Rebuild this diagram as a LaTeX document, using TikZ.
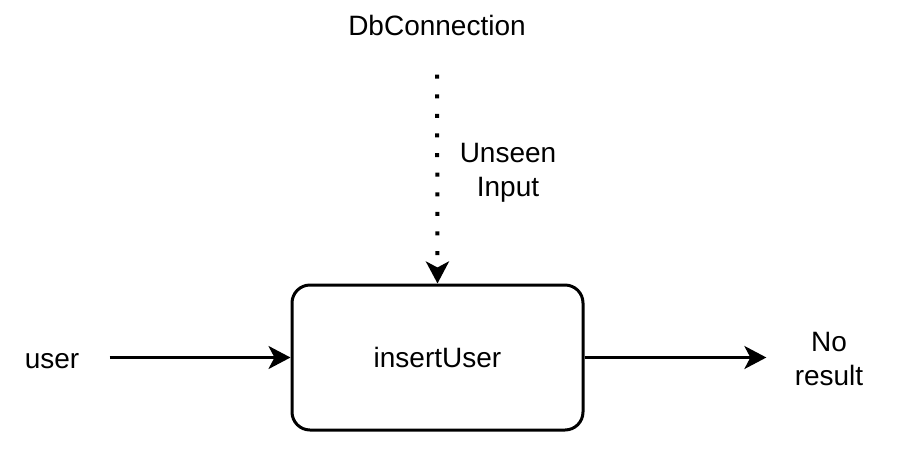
\documentclass[tikz,border=0pt]{standalone}
\usepackage{fontspec}
\setmainfont{Liberation Sans}
\usetikzlibrary{arrows.meta, positioning, calc}

\begin{document}
\begin{tikzpicture}[x=0.5pt, y=-0.5pt, font=\fontsize{14}{17}\selectfont,
  arr/.style={line width=1.5pt, -{Stealth[length=11pt, width=11.5pt, inset=3pt]}},
  lbl/.style={align=center, inner sep=0pt}]
\useasboundingbox (0,0) rectangle (900,456);
% Function box
\node[draw, line width=1.5pt, rounded corners=9pt, minimum width=145.5pt, minimum height=72.5pt] (ins) at (437.5,357.5) {insertUser};

% Inputs and output
\node[lbl, anchor=base] (db) at (437,35) {DbConnection};
\node[lbl] (unseen) at (508,173) {Unseen\\Input};
\node[lbl, anchor=base] (user) at (52,368) {user};
\node[lbl] (res) at (829,359) {No\\result};

% Connectors
\draw[arr, line width=2pt, dash pattern=on 2pt off 7.8pt, shorten <=19.5pt] (db.south) -- (ins.north); % unseen input
\draw[arr, shorten <=15pt] (user.east |- ins.west) -- (ins.west);
\draw[arr, shorten >=14pt] (ins.east) -- (res.west |- ins.east);
\end{tikzpicture}
\end{document}
